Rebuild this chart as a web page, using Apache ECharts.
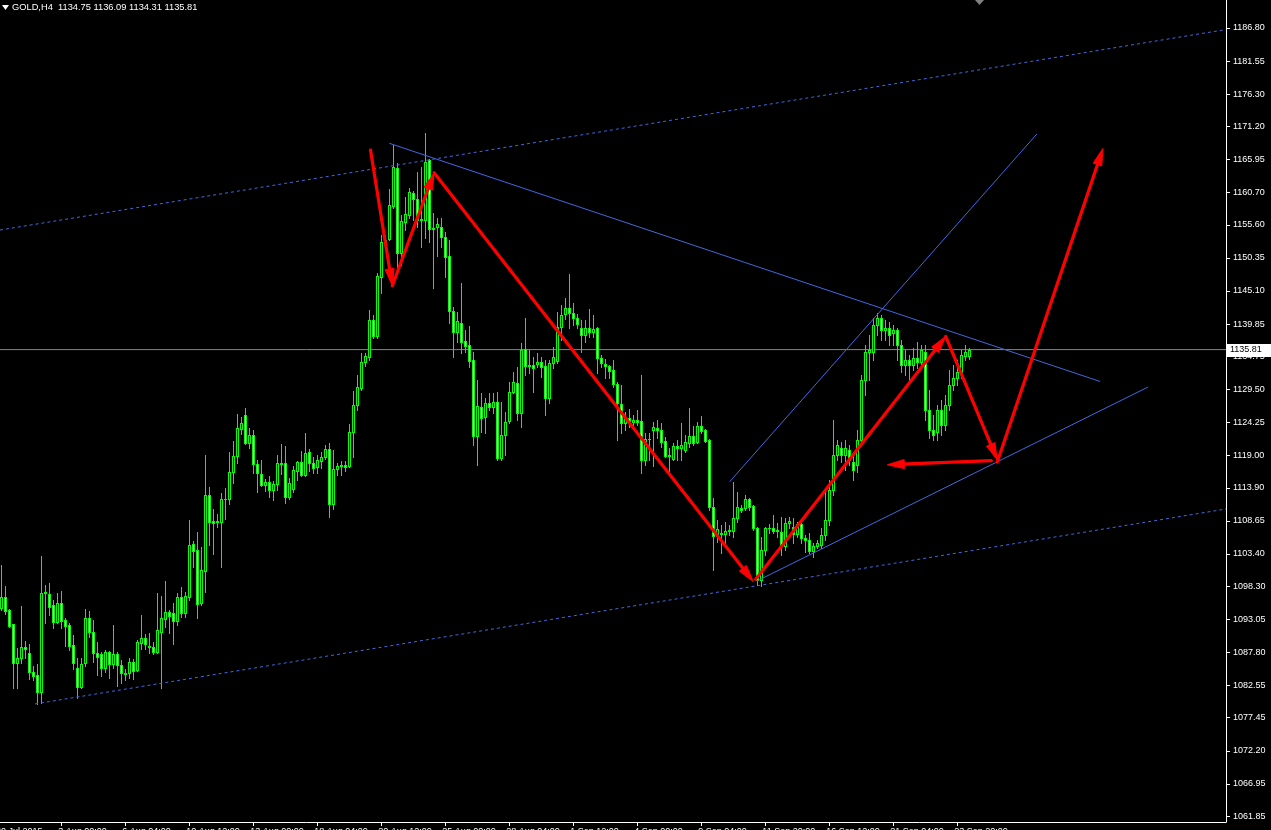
<!DOCTYPE html>
<html><head><meta charset="utf-8">
<script src="https://cdn.jsdelivr.net/npm/echarts@6/dist/echarts.min.js"></script>
<style>html,body{margin:0;padding:0;background:#000;overflow:hidden;}#c{width:1271px;height:830px;}</style>
</head><body><div id="c"></div>
<script>
// ---------- DATA ----------
const symbolName = 'GOLD,H4';
const opens = [1094.84,1096.59,1094.52,1092.31,1086.12,1086.91,1088.66,1087.70,1084.69,1084.22,1081.52,1097.22,1097.07,1095.32,1092.62,1095.63,1092.94,1092.15,1088.98,1085.33,
1082.32,1086.12,1093.25,1091.03,1087.70,1087.55,1085.33,1087.86,1085.97,1087.55,1085.81,1084.54,1084.54,1086.28,1085.01,1089.29,1090.08,1088.82,1088.66,1087.86,
1091.03,1093.09,1094.20,1094.04,1092.78,1096.59,1094.04,1096.59,1104.99,1104.04,1095.63,1100.71,1112.76,1108.63,1108.63,1108.47,1112.12,1112.12,1116.40,1118.94,
1123.22,1125.44,1121.00,1122.27,1117.67,1116.09,1114.34,1114.82,1113.55,1114.50,1117.83,1117.83,1112.44,1113.71,1116.56,1117.99,1115.93,1119.57,1117.83,1117.20,
1118.15,1118.78,1120.05,1111.33,1116.88,1117.36,1117.51,1117.36,1122.75,1127.03,1129.73,1133.85,1134.64,1140.51,1137.97,1147.32,1152.87,1153.34,1158.58,1164.60,
1151.13,1156.04,1157.15,1160.64,1159.69,1156.51,1156.36,1165.87,1155.09,1155.25,1155.25,1153.66,1150.65,1141.93,1138.60,1140.03,1137.18,1136.55,1134.17,1122.11,
1126.71,1125.12,1127.34,1126.71,1127.50,1118.62,1122.27,1124.49,1129.09,1130.52,1125.76,1135.91,1133.22,1133.37,1133.53,1133.85,1133.22,1128.14,1133.69,1134.01,
1139.40,1141.46,1142.41,1141.62,1140.83,1139.24,1138.13,1139.24,1138.60,1139.24,1134.48,1133.53,1133.22,1132.58,1130.36,1127.18,1124.17,1124.97,1124.33,1124.65,
1124.49,1118.31,1121.64,1123.06,1123.38,1123.06,1121.32,1118.94,1118.46,1120.53,1120.21,1119.89,1121.00,1122.11,1121.16,1123.70,1123.06,1121.48,1110.86,1106.26,
1106.73,1106.58,1107.05,1107.05,1109.11,1110.70,1110.70,1112.12,1111.01,1107.52,1099.28,1104.04,1107.52,1107.52,1107.05,1106.89,1104.67,1108.31,1107.68,1106.58,
1108.16,1105.94,1105.62,1103.88,1104.67,1104.83,1106.42,1108.79,1113.55,1119.10,1120.21,1119.10,1119.89,1117.99,1117.51,1121.48,1131.00,1135.43,1135.43,1139.71,
1140.83,1138.92,1139.24,1138.44,1138.92,1136.55,1133.37,1134.17,1133.37,1134.48,1133.85,1135.43,1126.23,1123.06,1122.75,1126.23,1123.85,1127.03,1130.20,1131.31,
1132.26,1134.80,1134.75];
const closes = [1096.59,1094.36,1091.99,1086.12,1086.91,1088.66,1088.34,1084.69,1084.06,1081.52,1097.22,1097.38,1095.00,1092.62,1095.63,1092.78,1091.99,1088.82,1086.12,1082.32,
1085.97,1093.25,1091.03,1087.70,1087.07,1085.33,1087.86,1085.97,1087.55,1085.81,1084.54,1084.38,1086.28,1084.85,1089.45,1090.08,1089.13,1088.66,1087.86,1091.35,
1093.25,1094.20,1093.57,1092.78,1096.59,1094.04,1096.75,1104.83,1103.88,1095.48,1100.87,1112.76,1108.47,1108.31,1108.47,1112.12,1112.20,1116.40,1118.94,1123.38,
1124.17,1121.00,1122.27,1117.67,1116.24,1114.34,1114.82,1113.55,1114.50,1117.83,1117.67,1112.44,1114.66,1116.72,1117.99,1115.93,1119.41,1117.83,1117.04,1118.31,
1118.78,1120.05,1111.33,1116.88,1117.36,1117.51,1117.20,1122.75,1127.03,1129.89,1133.85,1134.80,1140.51,1137.97,1147.48,1152.87,1153.19,1158.74,1164.76,1151.13,
1156.20,1157.31,1160.80,1159.69,1156.36,1156.43,1165.56,1154.93,1154.93,1155.72,1153.66,1150.49,1141.93,1138.60,1140.35,1137.02,1136.39,1134.01,1122.11,1126.87,
1124.97,1127.34,1126.71,1127.50,1118.62,1122.27,1124.33,1129.09,1130.68,1125.76,1135.75,1133.22,1133.37,1132.90,1133.85,1133.05,1128.14,1133.69,1134.64,1139.40,
1141.30,1142.41,1141.62,1140.83,1139.87,1138.13,1139.24,1138.60,1139.08,1134.48,1133.69,1133.22,1132.42,1130.36,1127.34,1124.17,1125.12,1124.33,1124.65,1124.33,
1118.31,1121.64,1121.56,1123.54,1123.06,1121.16,1118.94,1119.10,1120.53,1120.21,1120.69,1121.16,1122.11,1121.00,1123.70,1122.90,1121.32,1110.86,1106.26,1107.37,
1106.58,1107.05,1107.21,1109.11,1110.86,1110.38,1112.12,1110.86,1107.52,1099.28,1104.04,1107.52,1107.60,1107.05,1107.21,1104.67,1108.31,1108.63,1106.58,1108.16,
1105.94,1105.62,1103.88,1104.67,1105.14,1106.42,1108.79,1113.55,1119.10,1120.69,1119.10,1120.21,1118.31,1116.72,1121.48,1131.00,1135.43,1135.75,1139.71,1140.83,
1138.92,1139.24,1138.13,1138.92,1136.55,1133.37,1134.17,1133.37,1134.48,1133.85,1135.75,1126.23,1123.06,1122.27,1126.23,1123.85,1127.03,1130.20,1131.31,1132.26,
1134.96,1135.43,1135.81];
const lows = [1094.52,1093.89,1091.83,1082.16,1082.16,1086.12,1086.91,1083.58,1083.43,1079.63,1079.78,1092.46,1093.73,1091.67,1092.46,1091.67,1088.82,1088.18,1085.17,1080.57,
1082.16,1085.65,1090.24,1086.28,1084.22,1084.06,1084.69,1083.74,1085.33,1082.48,1082.95,1083.43,1083.74,1083.58,1084.85,1088.34,1088.34,1087.70,1087.55,1087.70,
1082.16,1091.83,1090.87,1089.13,1092.15,1093.41,1093.41,1096.11,1101.34,1093.25,1095.32,1097.38,1104.83,1103.41,1107.68,1101.34,1108.95,1111.33,1114.66,1117.83,
1122.43,1120.80,1120.21,1116.24,1113.23,1114.20,1113.39,1112.44,1111.97,1113.55,1116.09,1111.49,1112.12,1113.23,1115.14,1115.77,1115.77,1116.56,1116.24,1116.24,
1117.04,1118.46,1109.27,1110.54,1115.93,1115.93,1116.56,1117.20,1118.78,1126.23,1129.41,1133.22,1134.17,1137.65,1137.65,1144.78,1151.60,1153.19,1158.26,1148.91,
1149.22,1154.77,1156.67,1156.36,1155.25,1152.08,1153.50,1152.87,1145.58,1150.65,1152.08,1147.32,1140.03,1134.64,1137.02,1135.27,1135.43,1133.05,1120.69,1117.51,
1122.75,1122.59,1126.23,1125.76,1118.31,1118.31,1119.10,1124.17,1128.93,1124.65,1123.54,1131.79,1132.10,1129.09,1133.05,1131.47,1125.44,1127.34,1132.90,1133.69,
1137.34,1140.67,1139.24,1139.71,1139.24,1135.43,1137.02,1137.81,1137.81,1132.10,1133.05,1131.31,1131.31,1129.89,1121.48,1122.59,1123.06,1123.54,1123.54,1123.85,
1116.24,1117.51,1118.31,1117.36,1121.80,1120.37,1118.78,1116.24,1118.31,1118.31,1118.31,1119.57,1120.37,1120.69,1121.00,1122.59,1121.16,1110.38,1100.87,1105.30,
1103.56,1105.14,1106.42,1106.10,1108.47,1110.06,1110.38,1110.38,1107.21,1098.49,1098.35,1103.24,1106.73,1106.73,1106.10,1103.24,1104.04,1107.52,1105.14,1106.10,
1105.14,1103.72,1103.56,1102.93,1104.35,1104.35,1105.62,1108.00,1112.76,1118.31,1117.99,1116.72,1117.51,1115.14,1116.40,1120.69,1128.61,1131.00,1134.17,1138.13,
1137.34,1137.34,1136.55,1136.55,1134.17,1132.26,1131.79,1131.00,1132.58,1132.90,1132.90,1124.65,1121.80,1121.48,1121.48,1122.27,1123.06,1126.23,1129.41,1130.20,
1131.31,1134.17,1134.31];
const highs = [1101.66,1098.33,1094.68,1092.31,1088.50,1095.16,1089.61,1089.13,1085.65,1085.97,1103.09,1098.49,1098.80,1096.11,1097.22,1097.54,1093.25,1092.46,1090.56,1086.91,
1086.91,1094.68,1094.36,1092.94,1089.45,1087.86,1088.18,1088.02,1092.15,1087.86,1086.60,1085.17,1086.91,1086.75,1089.77,1093.73,1090.72,1090.87,1089.45,1097.22,
1096.75,1099.12,1094.52,1095.63,1097.22,1098.17,1097.38,1108.79,1105.46,1106.89,1104.51,1119.10,1114.03,1110.54,1109.75,1113.07,1113.87,1119.57,1121.32,1125.60,
1125.12,1126.55,1123.38,1123.06,1118.31,1118.31,1115.30,1115.77,1114.98,1119.10,1120.84,1120.53,1115.45,1117.36,1118.15,1119.73,1122.59,1120.05,1118.78,1119.10,
1119.57,1120.69,1121.00,1119.89,1117.83,1118.15,1118.15,1124.01,1129.25,1131.79,1135.27,1135.27,1142.09,1141.30,1147.95,1153.98,1153.98,1161.28,1168.25,1165.40,
1157.15,1160.01,1161.43,1160.96,1163.97,1164.76,1170.15,1166.03,1157.47,1156.67,1156.67,1154.46,1153.19,1142.56,1141.77,1146.37,1138.92,1139.55,1135.43,1131.00,
1128.93,1128.14,1128.93,1128.93,1129.09,1127.50,1125.92,1130.68,1132.26,1133.05,1136.86,1140.82,1135.75,1134.64,1135.27,1134.64,1134.17,1134.17,1136.23,1141.77,
1142.88,1144.00,1147.80,1143.20,1141.46,1140.51,1140.51,1142.25,1141.30,1139.40,1134.96,1134.32,1133.37,1134.17,1130.68,1130.20,1125.92,1126.39,1125.44,1126.23,
1131.79,1122.59,1122.59,1124.33,1124.65,1124.17,1121.95,1120.21,1121.00,1121.48,1124.17,1122.27,1126.55,1123.70,1124.33,1125.28,1123.22,1121.64,1112.28,1108.79,
1108.00,1108.47,1108.00,1114.82,1113.23,1111.17,1112.76,1112.28,1111.17,1107.68,1106.10,1107.68,1108.16,1109.59,1108.31,1109.27,1109.11,1109.27,1109.11,1108.47,
1108.79,1106.42,1106.73,1105.14,1105.62,1107.52,1113.55,1115.14,1124.65,1121.48,1121.16,1121.48,1120.69,1119.10,1123.06,1131.79,1136.55,1138.13,1140.83,1141.62,
1141.30,1140.51,1140.19,1139.71,1139.24,1137.34,1135.75,1134.96,1136.07,1137.02,1136.55,1136.55,1129.41,1125.44,1127.03,1127.82,1128.61,1132.58,1133.37,1134.17,
1135.75,1136.55,1136.09];

const priceTicks = [1186.80,1181.55,1176.30,1171.20,1165.95,1160.70,1155.60,1150.35,1145.10,1139.85,1134.75,1129.50,1124.25,1119.00,1113.90,1108.65,1103.40,1098.30,1093.05,1087.80,1082.55,1077.45,1072.20,1066.95,1061.85];
const firstDateLabel = '30 Jul 2015';
const timeLabels = ['3 Aug 00:00','6 Aug 04:00','10 Aug 12:00','13 Aug 00:00','18 Aug 04:00','20 Aug 12:00','25 Aug 00:00','28 Aug 04:00','1 Sep 12:00','4 Sep 00:00','9 Sep 04:00','11 Sep 20:00','16 Sep 12:00','21 Sep 04:00','23 Sep 20:00'];

// annotations in (bar index, price)
const channelLines = [[-0.325,1154.77,306.2,1186.56],[8.43,1079.63,306.2,1110.54]];
const trendLines = [[97,1168.52,274.7,1130.75],[188.9,1099.12,286.7,1129.88],[182.1,1114.87,258.9,1170.0]];
const arrows = [[92.3,1167.45,97.75,1145.94],[97.75,1145.94,108.2,1163.86],[108.2,1163.86,188.0,1099.02],
  [188.6,1099.4,236.1,1137.9],[236.1,1137.9,249.0,1118.3],[247.5,1118.2,221.5,1117.55],[249.0,1118.0,275.4,1167.7]];

// ---------- CHART ----------
const LIME = '#00ff00', RED = '#ff0000', BLUE = '#4169e1';
const X_MIN = -0.325, X_MAX = 306.175, Y_MIN = 1060.91, Y_MAX = 1191.24;
const lastClose = closes[closes.length-1];
const labelBars = timeLabels.map((_, k) => 15 + 16*k);

const chart = echarts.init(document.getElementById('c'), null, {renderer:'canvas'});

function renderCandle(params, api){
  const i = api.value(0), o = api.value(1), c = api.value(2), l = api.value(3), h = api.value(4);
  const pO = api.coord([i,o]), pC = api.coord([i,c]), pH = api.coord([i,h]), pL = api.coord([i,l]);
  const col = Math.floor(pO[0]);
  const yH = Math.round(pH[1]), yL = Math.round(pL[1]);
  const yT = Math.round(Math.min(pO[1],pC[1])), yB = Math.round(Math.max(pO[1],pC[1]));
  const ch = [
    {type:'rect', shape:{x:col, y:yH, width:1, height:Math.max(1,yL-yH+1)}, style:{fill:LIME}},
    {type:'rect', shape:{x:col-1, y:yT, width:3, height:yB-yT+1}, style:{fill:LIME}}
  ];
  if (yB-yT >= 2) ch.push({type:'rect', shape:{x:col, y:yT+1, width:1, height:yB-yT-1}, style:{fill: c>=o ? '#000' : '#fff'}});
  return {type:'group', children:ch};
}
function segRenderer(color, width, dash){
  return function(params, api){
    const p1 = api.coord([api.value(0), api.value(1)]), p2 = api.coord([api.value(2), api.value(3)]);
    return {type:'line', shape:{x1:p1[0],y1:p1[1],x2:p2[0],y2:p2[1]}, style:{stroke:color, lineWidth:width, lineDash:dash||null}};
  };
}
function renderArrow(params, api){
  const p1 = api.coord([api.value(0), api.value(1)]), p2 = api.coord([api.value(2), api.value(3)]);
  const dx = p2[0]-p1[0], dy = p2[1]-p1[1], len = Math.hypot(dx,dy), ux = dx/len, uy = dy/len;
  const HL = 17, HW = 4.5;
  const bx = p2[0]-ux*HL, by = p2[1]-uy*HL;
  return {type:'group', children:[
    {type:'line', shape:{x1:p1[0],y1:p1[1],x2:bx+ux*3,y2:by+uy*3}, style:{stroke:RED, lineWidth:3.2, lineCap:'round'}},
    {type:'polygon', shape:{points:[[p2[0],p2[1]],[bx-uy*HW,by+ux*HW],[bx+uy*HW,by-ux*HW]]}, style:{fill:RED, stroke:RED, lineWidth:1}}
  ]};
}

const candleData = opens.map((o,i) => [i, o, closes[i], lows[i], highs[i]]);

chart.setOption({
  animation:false,
  backgroundColor:'#000',
  grid:{left:0, right:45, top:0, bottom:8, show:false, containLabel:false, outerBoundsMode:'none'},
  xAxis:{type:'value', min:X_MIN, max:X_MAX, position:'bottom',
    splitLine:{show:false},
    axisLine:{show:true, onZero:false, lineStyle:{color:'#fff', width:1}},
    axisTick:{show:true, customValues:labelBars, length:4, lineStyle:{color:'#fff'}},
    axisLabel:{show:true, customValues:labelBars, color:'#fff', fontSize:9, fontFamily:'Liberation Sans',
      align:'left', verticalAlign:'top', margin:5, padding:[0,0,0,-3],
      formatter:(v)=>{const k=labelBars.indexOf(Math.round(v)); return k>=0?timeLabels[k]:'';}}
  },
  yAxis:{type:'value', min:Y_MIN, max:Y_MAX, position:'right', scale:true,
    splitLine:{show:false},
    axisLine:{show:true, onZero:false, lineStyle:{color:'#fff', width:1}},
    axisTick:{show:true, customValues:priceTicks, length:4, lineStyle:{color:'#fff'}},
    axisLabel:{show:true, customValues:priceTicks, color:'#fff', fontSize:9, fontFamily:'Liberation Sans', margin:7,
      formatter:(v)=>Number(v).toFixed(2)}
  },
  series:[
    {type:'custom', name:'price line', renderItem:segRenderer('#778899',1), data:[[X_MIN,lastClose,X_MAX,lastClose]], z:1, silent:true},
    {type:'custom', name:'candles', renderItem:renderCandle, data:candleData, z:2, silent:true},
    {type:'custom', name:'channel', renderItem:segRenderer(BLUE,1,[3,3]), data:channelLines, z:3, silent:true},
    {type:'custom', name:'trend', renderItem:segRenderer(BLUE,1), data:trendLines, z:3, silent:true},
    {type:'custom', name:'arrows', renderItem:renderArrow, data:arrows, z:4, silent:true}
  ]
});

const yPx = chart.convertToPixel({yAxisIndex:0}, lastClose);
chart.setOption({graphic:[
  {type:'polygon', shape:{points:[[2,5],[9,5],[5.5,10]]}, style:{fill:'#fff'}},
  {type:'text', left:12, top:3, style:{text:symbolName+'  '+opens[opens.length-1].toFixed(2)+' '+highs[highs.length-1].toFixed(2)+' '+lows[lows.length-1].toFixed(2)+' '+lastClose.toFixed(2), fill:'#fff', font:'9.3px "Liberation Sans"'}},
  {type:'text', left:-4, top:827, style:{text:firstDateLabel, fill:'#fff', font:'9px "Liberation Sans"'}},
  {type:'polygon', shape:{points:[[975,0],[984,0],[979.5,5]]}, style:{fill:'#808080'}},
  {type:'rect', shape:{x:1227, y:Math.round(yPx)-6, width:44, height:13}, style:{fill:'#fff'}, z:100},
  {type:'text', x:1230, y:Math.round(yPx), style:{text:lastClose.toFixed(2), fill:'#000', font:'9px "Liberation Sans"', verticalAlign:'middle'}, z:101}
]});
</script></body></html>
